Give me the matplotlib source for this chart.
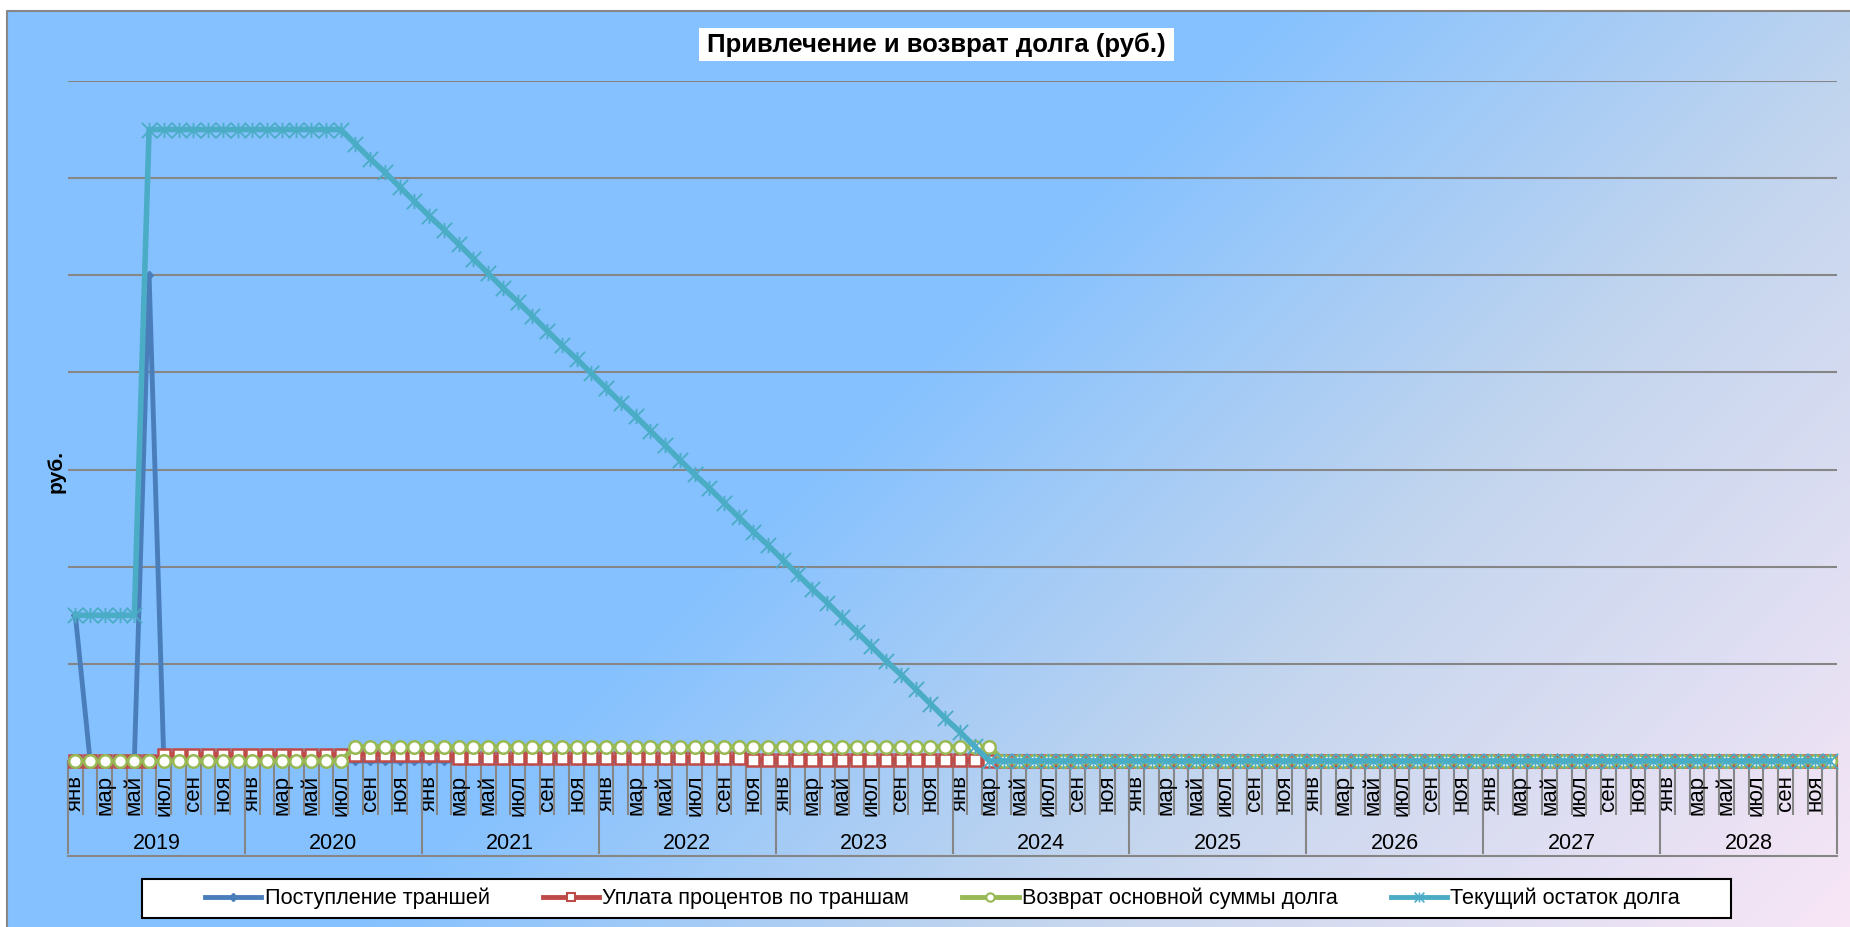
import numpy as np
import matplotlib
matplotlib.use("Agg")
import matplotlib.pyplot as plt
import matplotlib.transforms as mtransforms
from matplotlib.colors import LinearSegmentedColormap
from matplotlib.lines import Line2D
from matplotlib.patches import Rectangle
from matplotlib.path import Path

plt.rcParams["font.family"] = ["Liberation Sans", "DejaVu Sans"]

# --- data (values in grid units) ---
years = [2019, 2020, 2021, 2022, 2023, 2024, 2025, 2026, 2027, 2028]
month_labels = ["янв", "", "мар", "", "май", "", "июл", "", "сен", "", "ноя", ""]

tranches = (
    [1.5, 0, 0, 0, 0, 5.0, 0, 0, 0, 0, 0, 0]          # 2019
    + [0] * 108                                      # 2020-2028
)

interest = (
    [0, 0, 0, 0, 0, 0, 0.065, 0.065, 0.065, 0.065, 0.065, 0.065]       # 2019
    + [0.065] * 12                                                   # 2020
    + [0.065, 0.065] + [0.035] * 10                                  # 2021
    + [0.035] * 10 + [0.015, 0.015]                                  # 2022
    + [0.015] * 12                                                   # 2023
    + [0.015, 0.015] + [0] * 10                                      # 2024
    + [0] * 48                                                       # 2025-2028
)

principal = (
    [0] * 12                                          # 2019
    + [0] * 7 + [0.148] * 5                           # 2020
    + [0.148] * 36                                    # 2021-2023
    + [0.148] * 3 + [0] * 9                           # 2024
    + [0] * 48                                        # 2025-2028
)

balance = (
    [1.5, 1.5, 1.5, 1.5, 1.5, 6.5, 6.5, 6.5, 6.5, 6.5, 6.5, 6.5]                 # 2019
    + [6.5, 6.5, 6.5, 6.5, 6.5, 6.5, 6.5, 6.35, 6.20, 6.06, 5.91, 5.76]        # 2020
    + [5.61, 5.47, 5.32, 5.17, 5.02, 4.87, 4.73, 4.58, 4.43, 4.28, 4.14, 3.99]  # 2021
    + [3.84, 3.69, 3.55, 3.40, 3.25, 3.10, 2.95, 2.81, 2.66, 2.51, 2.36, 2.22]  # 2022
    + [2.07, 1.92, 1.77, 1.63, 1.48, 1.33, 1.18, 1.03, 0.89, 0.74, 0.59, 0.44]  # 2023
    + [0.30, 0.15, 0.0] + [0] * 9                                             # 2024
    + [0] * 48                                                                # 2025-2028
)

series_names = ["Поступление траншей", "Уплата процентов по траншам",
                "Возврат основной суммы долга", "Текущий остаток долга"]

W, H = 1850, 927
fig = plt.figure(figsize=(W / 100, H / 100), dpi=100)
fig.patch.set_facecolor("white")

# background layer in pixel coordinates
bg = fig.add_axes([0, 0, 1, 1], zorder=-1)
xx, yy = np.meshgrid(np.arange(7, W), np.arange(11, H))
grad = (xx + yy) / (W + H)
cmap = LinearSegmentedColormap.from_list(
    "chart_bg", [(0, "#85C1FF"), (0.46, "#85C1FF"), (0.70, "#C2D5EE"), (1.0, "#F8E6F6")])
bg.imshow(grad, cmap=cmap, vmin=0, vmax=1, extent=(7, W, H, 11),
          aspect="auto", interpolation="bilinear")
bg.set_xlim(0, W)
bg.set_ylim(H, 0)
bg.axis("off")
bg.plot([6.5, 6.5, W], [H, 10.5, 10.5], color="#878787", lw=1.5)

bg.add_patch(Rectangle((699, 28), 475, 33, fc="white", ec="none"))
bg.text(936.5, 45, "Привлечение и возврат долга (руб.)", ha="center", va="center",
        fontsize=18.5, fontweight="bold")
bg.text(56, 471, "руб.", rotation=90, ha="center", va="center",
        fontsize=15, fontweight="bold")
bg.add_patch(Rectangle((142, 879), 1589, 39, fc="white", ec="black", lw=1.5))

# main plot
ax = fig.add_axes([68 / W, 1 - 761 / H, (1837 - 68) / W, (761 - 81) / H])
ax.patch.set_visible(False)
x = np.arange(len(balance))
ax.set_xlim(-0.5, len(x) - 0.5)
ax.set_ylim(0, 7)
ax.set_yticks(range(8))
ax.tick_params(axis="y", length=0, labelleft=False)
ax.grid(axis="y", color="#868686", lw=1.5)
ax.set_axisbelow(True)
for s in ["left", "right", "top"]:
    ax.spines[s].set_visible(False)
ax.spines["bottom"].set_color("#868686")
ax.spines["bottom"].set_linewidth(1.5)

ax.set_xticks(np.arange(-0.5, len(x), 1))
ax.tick_params(axis="x", which="major", length=39, width=1.5, color="#868686",
               labelbottom=False)
ax.set_xticks(x, minor=True)
ax.set_xticklabels(month_labels * len(years), minor=True, rotation=90, fontsize=16)
ax.tick_params(axis="x", which="minor", length=0, pad=10)

trans = mtransforms.blended_transform_factory(ax.transData, ax.transAxes)
for k, yr in enumerate(years):
    b = k * 12 - 0.5
    ax.plot([b, b], [0, -0.1353], transform=trans, color="#868686", lw=1.5, clip_on=False)
    ax.text(k * 12 + 5.5, -0.1206, str(yr), transform=trans, ha="center", va="center",
            fontsize=15.5)
ax.plot([len(x) - 0.5] * 2, [0, -0.1353], transform=trans, color="#868686", lw=1.5,
        clip_on=False)
ax.plot([-0.5, len(x) - 0.5], [-0.1397, -0.1397], transform=trans, color="#868686",
        lw=1.5, clip_on=False)

# star marker like excel's: X with a vertical bar
star = Path([(-1, -1), (1, 1), (-1, 1), (1, -1), (0, -1), (0, 1)],
            [Path.MOVETO, Path.LINETO, Path.MOVETO, Path.LINETO, Path.MOVETO, Path.LINETO])

c_blue, c_red, c_green, c_teal = "#4A7EBB", "#BE4B48", "#98B954", "#4BACC6"

ax.plot(x, tranches, color=c_blue, lw=3.5, marker="D", ms=4, clip_on=False, zorder=3)
ax.plot(x, interest, color=c_red, lw=3.5, marker="s", ms=8, mfc="white", mec=c_red,
        mew=1.8, clip_on=False, zorder=4)
ax.plot(x, principal, color=c_green, lw=3.5, marker="o", ms=9, mfc="white", mec=c_green,
        mew=1.8, clip_on=False, zorder=5)
ax.plot(x, balance, color=c_teal, lw=4, marker=star, ms=11, mfc="none", mec=c_teal,
        mew=1.3, clip_on=False, zorder=6)

handles = [
    Line2D([], [], color=c_blue, lw=3.5, marker="D", ms=4),
    Line2D([], [], color=c_red, lw=3.5, marker="s", ms=6, mfc="white", mec=c_red, mew=1.5),
    Line2D([], [], color=c_green, lw=3.5, marker="o", ms=6, mfc="white", mec=c_green, mew=1.5),
    Line2D([], [], color=c_teal, lw=3.5, marker=star, ms=7, mfc="none", mec=c_teal, mew=1.2),
]
fig.legend(handles, series_names, loc="center", bbox_to_anchor=(942.5 / W, 1 - 898.5 / H),
           ncol=4, frameon=False, fontsize=15.6, handlelength=2.6, handletextpad=0.15,
           columnspacing=2.45, borderpad=0, borderaxespad=0)

fig.savefig("out.png", dpi=100)
